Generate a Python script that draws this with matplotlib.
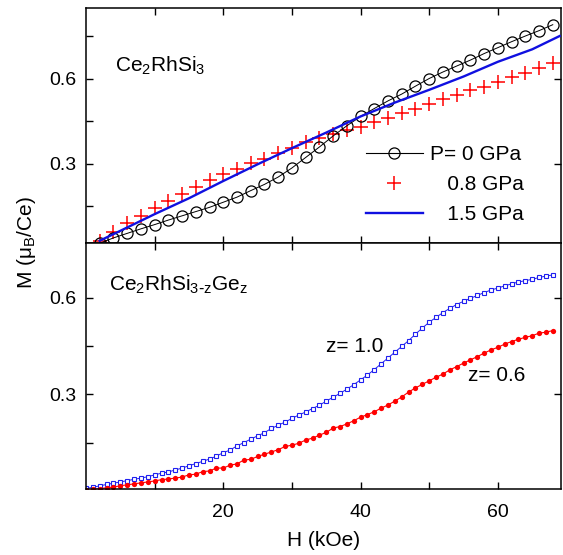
import numpy as np
import matplotlib
matplotlib.use('Agg')
import matplotlib.pyplot as plt
from matplotlib.ticker import FixedLocator, NullFormatter
from matplotlib.lines import Line2D

plt.rcParams['font.family'] = ['Liberation Sans', 'DejaVu Sans']
plt.rcParams['mathtext.default'] = 'regular'

# ── Ce2RhSi3 sous pression ────────────────────────────────────────────
h_p = [2, 4, 6, 8, 10, 12, 14, 16, 18, 20, 22, 24, 26, 28, 30, 32, 34,
       36, 38, 40, 42, 44, 46, 48, 50, 52, 54, 56, 58, 60, 62, 64, 66, 68]
m_p0 = [0.019, 0.038, 0.054, 0.070, 0.085, 0.101, 0.116, 0.131, 0.146, 0.164,
        0.182, 0.205, 0.227, 0.253, 0.285, 0.322, 0.359, 0.398, 0.434, 0.467,
        0.495, 0.522, 0.546, 0.574, 0.601, 0.624, 0.645, 0.666, 0.689, 0.710,
        0.731, 0.751, 0.770, 0.791]
m_p08 = [0.028, 0.058, 0.092, 0.116, 0.145, 0.170, 0.192, 0.219, 0.242, 0.262,
         0.281, 0.302, 0.318, 0.339, 0.356, 0.375, 0.390, 0.404, 0.418, 0.431,
         0.448, 0.463, 0.478, 0.495, 0.512, 0.528, 0.543, 0.561, 0.572, 0.589,
         0.605, 0.622, 0.639, 0.654]
h_p15 = [2, 5, 10, 15, 20, 25, 30, 35, 40, 45, 50, 55, 60, 65, 69]
m_p15 = [0.028, 0.063, 0.122, 0.178, 0.239, 0.298, 0.355, 0.410, 0.467, 0.516,
         0.561, 0.608, 0.660, 0.704, 0.751]

# ── Ce2RhSi3-zGez ─────────────────────────────────────────────────────
h_ge = [0, 1, 2, 3, 4, 5, 6, 7, 8, 9, 10, 11, 12, 13, 14, 15, 16, 17, 18, 19,
        20, 21, 22, 23, 24, 25, 26, 27, 28, 29, 30, 31, 32, 33, 34, 35, 36, 37,
        38, 39, 40, 41, 42, 43, 44, 45, 46, 47, 48, 49, 50, 51, 52, 53, 54, 55,
        56, 57, 58, 59, 60, 61, 62, 63, 64, 65, 66, 67, 68]
m_z10 = [0.008, 0.011, 0.016, 0.020, 0.024, 0.028, 0.032, 0.036, 0.040, 0.044,
         0.050, 0.055, 0.059, 0.065, 0.071, 0.078, 0.085, 0.092, 0.099, 0.108,
         0.119, 0.127, 0.140, 0.150, 0.161,
         0.171, 0.181, 0.194, 0.204, 0.214, 0.225, 0.236, 0.245, 0.256, 0.266,
         0.279, 0.291, 0.303, 0.316, 0.330, 0.345, 0.360, 0.377, 0.395, 0.413,
         0.431,
         0.449, 0.467, 0.487, 0.506, 0.524, 0.539, 0.554, 0.567, 0.579, 0.589,
         0.598, 0.607, 0.616, 0.624, 0.630, 0.637, 0.643, 0.649, 0.653, 0.657,
         0.663, 0.667, 0.671]
m_z06 = [0.003, 0.005, 0.007, 0.010, 0.012, 0.016, 0.019, 0.022, 0.025, 0.028,
         0.031, 0.035, 0.037, 0.040, 0.043, 0.050, 0.052, 0.060, 0.062, 0.071,
         0.071, 0.080, 0.084, 0.096, 0.098,
         0.107, 0.114, 0.121, 0.128, 0.138, 0.142, 0.148, 0.158, 0.164, 0.173,
         0.182, 0.195, 0.200, 0.208, 0.218, 0.229, 0.237, 0.246, 0.257, 0.267,
         0.279,
         0.292, 0.307, 0.320, 0.331, 0.342, 0.353, 0.363, 0.376, 0.386, 0.397,
         0.407, 0.417, 0.428, 0.438, 0.446, 0.456, 0.464, 0.471, 0.477, 0.482,
         0.490, 0.493, 0.498]

fig = plt.figure(figsize=(5.63, 5.55), dpi=100)
ax1 = fig.add_axes([86 / 563, 1 - 243 / 555, 475 / 563, 235 / 555])
ax2 = fig.add_axes([86 / 563, 1 - 489 / 555, 475 / 563, 246 / 555], sharex=ax1)

# ── Panneau du haut ───────────────────────────────────────────────────
ax1.plot(h_p, m_p0, '-o', color='black', lw=0.7, ms=8, mfc='none',
         mew=0.9, zorder=3)
ax1.plot(h_p, m_p08, '+', color='red', ms=10, mew=1.1, zorder=2)
ax1.plot(h_p15, m_p15, '-', color='#1010e0', lw=1.7, zorder=4)

handles = [Line2D([], [], color='black', lw=0.8, marker='o', ms=8, mfc='none', mew=0.9),
           Line2D([], [], color='red', ls='none', marker='+', ms=10, mew=1.1),
           Line2D([], [], color='#1010e0', lw=1.7)]
labels = ['P= 0 GPa', '   0.8 GPa', '   1.5 GPa']
ax1.legend(handles, labels, loc='upper left', bbox_to_anchor=(0.59, 0.415),
           frameon=False, fontsize=15, handlelength=2.7, handletextpad=0.35,
           labelspacing=0.52, borderpad=0, borderaxespad=0)

ax1.text(0.061, 0.755, 'Ce$_2$RhSi$_3$', transform=ax1.transAxes,
         fontsize=15, va='center', ha='left')

ax1.set_ylim(0.02, 0.85)
ax1.yaxis.set_major_locator(FixedLocator([0.3, 0.6]))
ax1.yaxis.set_minor_locator(FixedLocator([0.15, 0.45, 0.75]))

# ── Panneau du bas ────────────────────────────────────────────────────
ax2.plot(h_ge, m_z10, '-s', color='#2020f0', lw=0.7, ms=3.2, mfc='white',
         mew=0.8)
ax2.plot(h_ge, m_z06, '-o', color='red', lw=0.8, ms=3.8, mew=0)

ax2.text(0.048, 0.83, 'Ce$_2$RhSi$_{3\\text{-}z}$Ge$_z$', transform=ax2.transAxes,
         fontsize=15, va='center', ha='left')
ax2.text(35.0, 0.45, 'z= 1.0', fontsize=15, va='center', ha='left')
ax2.text(55.6, 0.36, 'z= 0.6', fontsize=15, va='center', ha='left')

ax2.set_ylim(0.006, 0.77)
ax2.yaxis.set_major_locator(FixedLocator([0.3, 0.6]))
ax2.yaxis.set_minor_locator(FixedLocator([0.15, 0.45]))

ax2.set_xlim(0, 69.2)
ax2.xaxis.set_major_locator(FixedLocator([20, 40, 60]))
ax2.xaxis.set_minor_locator(FixedLocator([10, 30, 50]))

for ax in (ax1, ax2):
    for sp in ax.spines.values():
        sp.set_linewidth(1.1)
    ax.tick_params(which='both', direction='in', top=True, right=True,
                   length=5, width=1, labelsize=14, pad=7)
    ax.tick_params(axis='y', which='minor', right=False)
    ax.yaxis.set_minor_formatter(NullFormatter())
    ax.set_yticklabels(['0.3', '0.6'])
ax1.tick_params(axis='x', labelbottom=False)
ax2.tick_params(axis='x', pad=11)
ax2.set_xlabel('H (kOe)', fontsize=15, labelpad=7)

fig.text(26 / 563, 1 - 243 / 555, 'M (μ$_B$/Ce)', rotation=90, fontsize=15,
         ha='center', va='center')

fig.savefig('out.png', dpi=100)
